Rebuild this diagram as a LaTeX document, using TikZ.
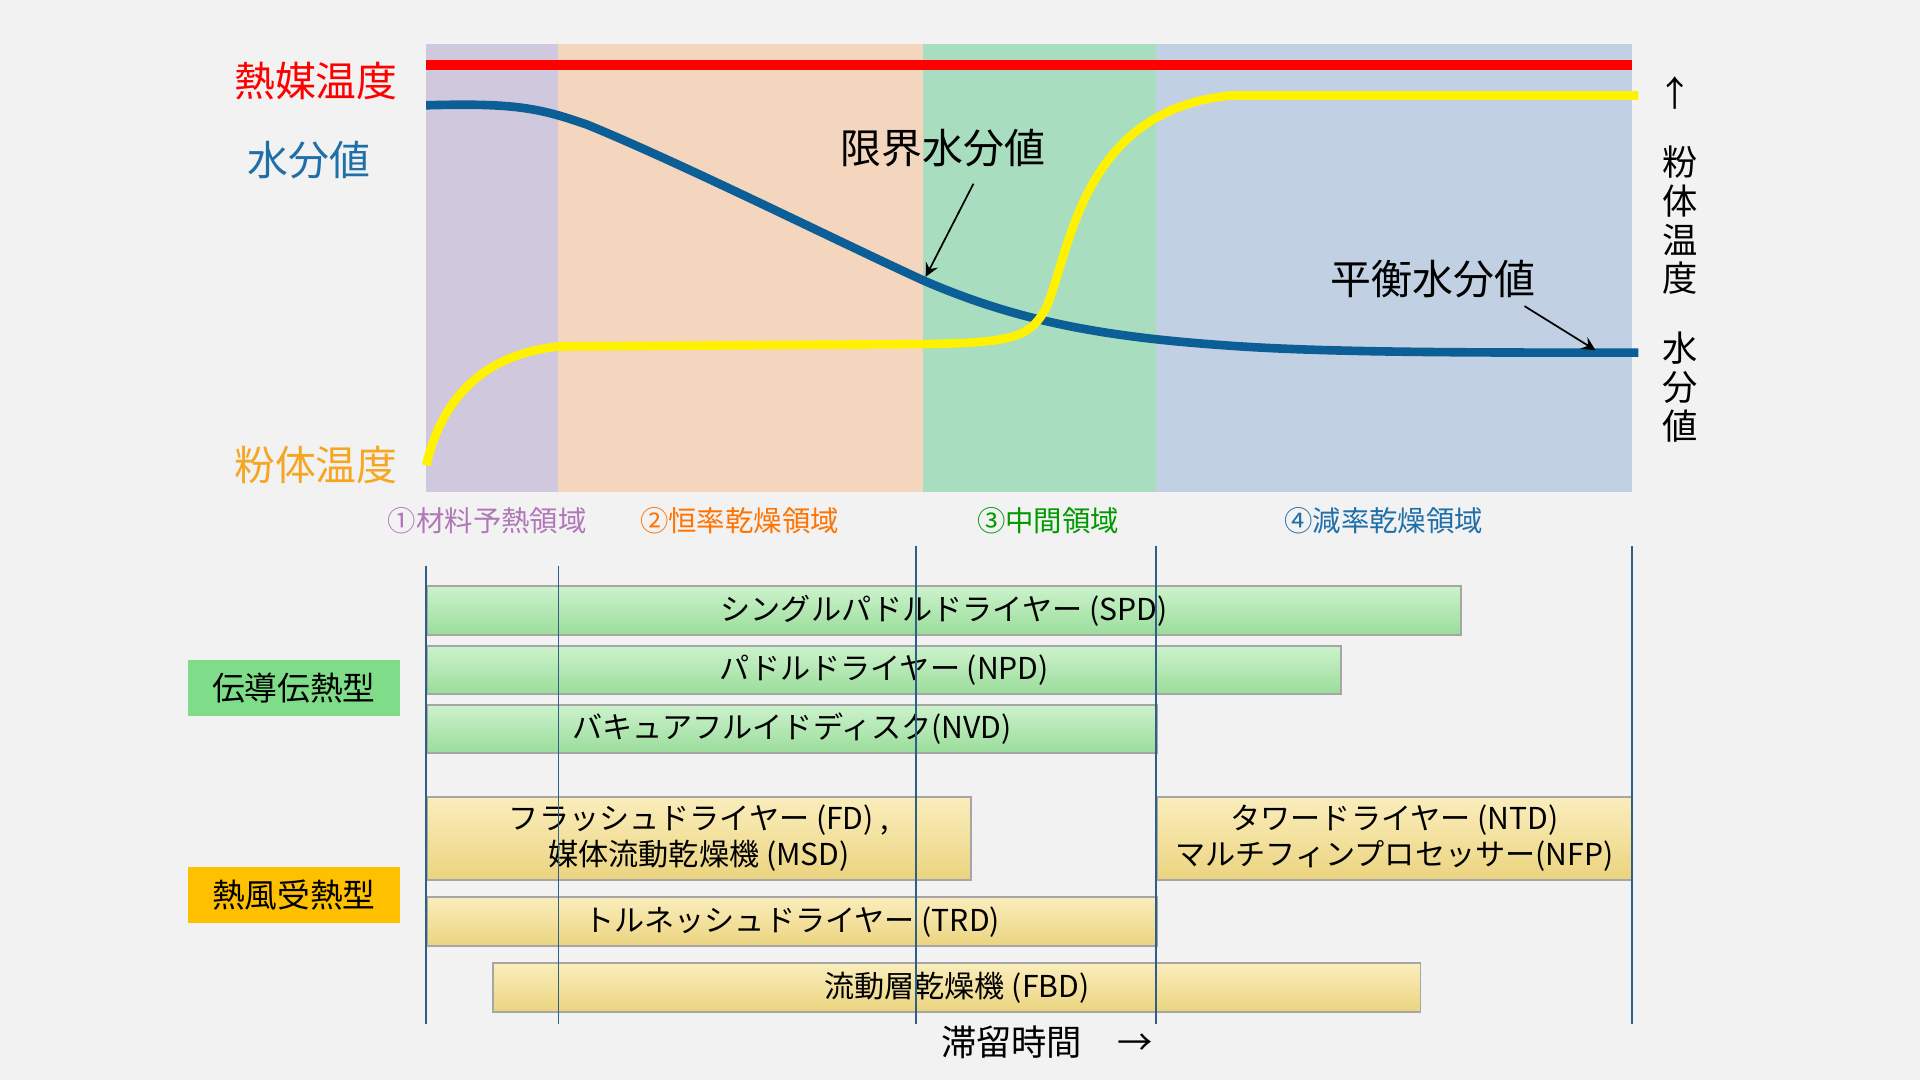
\documentclass[tikz,border=0pt]{standalone}
\usepackage{fontspec}
\setmainfont{Noto Sans CJK JP}
\usetikzlibrary{positioning}
\definecolor{bgc}{HTML}{F2F2F2}
\definecolor{zpur}{HTML}{D0C8DC}
\definecolor{zora}{HTML}{F4D6BE}
\definecolor{zgrn}{HTML}{A9DDBF}
\definecolor{zblu}{HTML}{C1D1E3}
\definecolor{wblue}{HTML}{1F6FA8}
\definecolor{curve}{HTML}{0B5E96}
\definecolor{porange}{HTML}{F5A623}
\definecolor{gbar}{HTML}{A3E8A3}
\definecolor{ybar}{HTML}{F7DF86}
\definecolor{gcat}{HTML}{7FDD8A}
\definecolor{ycat}{HTML}{FFC000}
\definecolor{vline}{HTML}{2E5F86}
\tikzset{
	gbarst/.style={draw=gray!70,top color=gbar!55,bottom color=gbar!95!black,inner sep=0pt,anchor=north west,font=\fontsize{7pt}{8.4pt}\selectfont,align=center},
	ybarst/.style={draw=gray!70,top color=ybar!55,bottom color=ybar!95!black,inner sep=0pt,anchor=north west,font=\fontsize{7pt}{8.4pt}\selectfont,align=center},
	catst/.style={minimum width=1.73cm,minimum height=0.46cm,inner sep=0pt,font=\fontsize{7.6pt}{9pt}\selectfont},
	zonelbl/.style={font=\fontsize{6.6pt}{8pt}\selectfont},
	axislbl/.style={font=\fontsize{9.5pt}{11pt}\selectfont},
	vertlbl/.style={font=\fontsize{8.2pt}{9pt}\selectfont,align=center},
}
\begin{document}
\begin{tikzpicture}[x=0.01cm,y=-0.01cm]
	\fill[bgc] (0,0) rectangle (1568,882);
	\useasboundingbox (0,0) rectangle (1568,882);
	% zones
	\fill[zpur] (348,36) rectangle (456,402);
	\fill[zora] (456,36) rectangle (754,402);
	\fill[zgrn] (754,36) rectangle (944,402);
	\fill[zblu] (944,36) rectangle (1333,402);
	\draw[red,line width=2.2pt] (348,53) -- (1333,53);
	% curves
	\draw[curve,line width=2pt] (348,86) .. controls (420,84) and (440,88) .. (480,102)
		.. controls (560,135) and (680,195) .. (754,229)
		.. controls (830,262) and (900,275) .. (1000,282)
		.. controls (1080,288) and (1200,288) .. (1338,288);
	\draw[yellow,line width=2pt] (348,380) .. controls (360,330) and (390,290) .. (456,283)
		-- (754,281) .. controls (830,280) and (842,275) .. (855,250)
		.. controls (875,200) and (885,90) .. (1005,78) -- (1338,78);
	% axis labels
	\node[axislbl,text=red] (tmed) at (258,66) {熱媒温度};
	\node[axislbl,text=wblue] (moist) at (252,131) {水分値};
	\node[axislbl,text=porange] (tpow) at (258,380) {粉体温度};
	\node[axislbl] (crit) at (770,121) {限界水分値};
	\node[axislbl] (equi) at (1170,228) {平衡水分値};
	\coordinate (critp) at (756,226);
	\coordinate (equip) at (1303,286);
	\draw[-stealth] (795,150) -- (critp);
	\draw[-stealth] (1245,250) -- (equip);
	\node[vertlbl] (up) at (1368,76) {↑};
	\node[vertlbl] (rtemp) at (1372,180) {粉\\体\\温\\度};
	\node[vertlbl] (rmoist) at (1372,316) {水\\分\\値};
	% zone labels
	\node[zonelbl,text=zpur!60!violet] (z1) at (398,425) {①材料予熱領域};
	\node[zonelbl,text=orange!90!red] (z2) at (604,425) {②恒率乾燥領域};
	\node[zonelbl,text=green!60!black] (z3) at (856,425) {③中間領域};
	\node[zonelbl,text=wblue] (z4) at (1130,425) {④減率乾燥領域};
	% bars
	\node[gbarst,minimum width=8.44cm,minimum height=0.40cm] (spd) at (348,478) {シングルパドルドライヤー (SPD)};
	\node[gbarst,minimum width=7.46cm,minimum height=0.39cm] (npd) at (348,527) {パドルドライヤー (NPD)};
	\node[gbarst,minimum width=5.96cm,minimum height=0.39cm] (nvd) at (348,575) {バキュアフルイドディスク(NVD)};
	\node[ybarst,minimum width=4.44cm,minimum height=0.68cm] (fd) at (348,650) {フラッシュドライヤー (FD) ,\\媒体流動乾燥機 (MSD)};
	\node[ybarst,minimum width=3.88cm,minimum height=0.68cm] (ntd) at (944,650) {タワードライヤー (NTD)\\マルチフィンプロセッサー(NFP)};
	\node[ybarst,minimum width=5.96cm,minimum height=0.40cm] (trd) at (348,732) {トルネッシュドライヤー (TRD)};
	\node[ybarst,minimum width=7.57cm,minimum height=0.40cm] (fbd) at (402,786) {流動層乾燥機 (FBD)};
	% vertical lines
	\foreach \x/\t in {348/462,456/462,748/446,944/446,1333/446}{
		\draw[vline] (\x,\t) -- (\x,836);
	}
	\node[catst,fill=gcat] (cond) at (240,562) {伝導伝熱型};
	\node[catst,fill=ycat] (hot) at (240,731) {熱風受熱型};
	\node[font=\fontsize{8.2pt}{9pt}\selectfont] (rt) at (855,851) {滞留時間\quad →};
\end{tikzpicture}
\end{document}
